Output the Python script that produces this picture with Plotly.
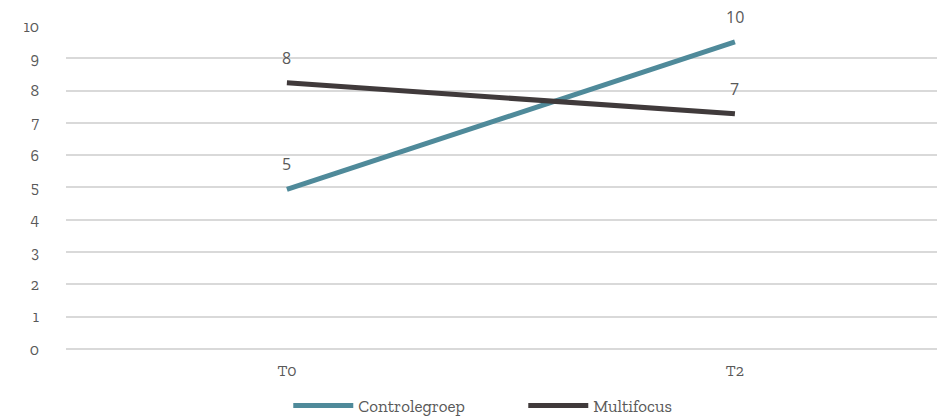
import plotly.graph_objects as go

# Meetmomenten en gemiddelde scores per groep
momenten = ["T0", "T2"]
controlegroep = [4.94, 9.51]
multifocus = [8.24, 7.28]
y_ticks = list(range(0, 11))

TEAL = "#4f8a9a"
DARK = "#403a3b"
GRID = "#d9d9d9"
TEXT = "#595959"
SERIF = "Zilla Slab, DejaVu Serif, serif"
SANS = "Open Sans, sans-serif"

fig = go.Figure()
for naam, waarden, kleur in [("Controlegroep", controlegroep, TEAL),
                             ("Multifocus", multifocus, DARK)]:
    fig.add_trace(go.Scatter(
        x=momenten, y=waarden, name=naam,
        mode="lines", line=dict(color=kleur, width=5),
    ))
    # Waardelabels boven elk punt
    for m, v in zip(momenten, waarden):
        fig.add_annotation(
            x=m, y=v, text=f"{v:.0f}", showarrow=False,
            yshift=25, font=dict(family=SANS, size=16, color=TEXT),
        )

fig.update_layout(
    width=937, height=418,
    margin=dict(l=66, r=0, t=25, b=69, autoexpand=False),
    plot_bgcolor="white", paper_bgcolor="white",
    showlegend=True,
    legend=dict(
        orientation="h", x=0.525, xanchor="center",
        y=-0.12, yanchor="top",
        font=dict(family=SERIF, size=17, color=TEXT),
        itemwidth=60, tracegroupgap=0, entrywidth=160,
    ),
    xaxis=dict(
        type="category", range=[-0.493, 1.451],
        showgrid=False, zeroline=False, showline=False,
        tickfont=dict(family=SERIF, size=16, color=TEXT),
        ticks="", ticklabelstandoff=10, automargin=False,
    ),
    yaxis=dict(
        range=[0, 10.03], tickvals=y_ticks,
        showgrid=True, gridcolor=GRID, gridwidth=2,
        zeroline=True, zerolinecolor=GRID, zerolinewidth=2,
        showline=False, ticks="", automargin=False,
        tickfont=dict(family=SERIF, size=16, color=TEXT),
        ticklabelstandoff=26,
    ),
)

fig.write_html("out.html")
